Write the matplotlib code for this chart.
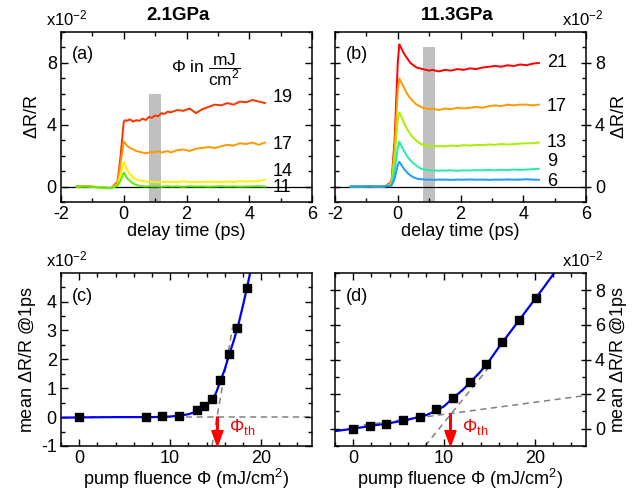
import matplotlib
matplotlib.use("Agg")
import matplotlib.pyplot as plt
from matplotlib.ticker import MultipleLocator

plt.rcParams['font.family'] = ['Liberation Sans', 'DejaVu Sans']
plt.rcParams['mathtext.fontset'] = 'custom'
plt.rcParams['mathtext.rm'] = 'Liberation Sans'
plt.rcParams['mathtext.it'] = 'Liberation Sans:italic'
plt.rcParams['mathtext.bf'] = 'Liberation Sans:bold'
plt.rcParams['axes.unicode_minus'] = False

# ---- transient reflectivity traces (x1e-2) ----
t = [-1.5, -1.2, -0.9, -0.6, -0.4, -0.2, -0.1, 0.0, 0.05, 0.1, 0.2, 0.3, 0.4,
     0.5, 0.6, 0.7, 0.8, 0.9, 1.0, 1.1, 1.2, 1.3, 1.4, 1.5, 1.7, 1.9, 2.1, 2.3,
     2.5, 2.7, 2.9, 3.1, 3.3, 3.5, 3.7, 3.9, 4.1, 4.3, 4.5]

# 2.1 GPa
a_labels = ["19", "17", "14", "11"]
a_colors = ["#ff3300", "#ff9900", "#ffee00", "#55ee00"]
a_traces = [
    [0.0, 0.02, -0.03, -0.08, -0.1, 0.3, 2.0, 4.2, 4.3, 4.25, 4.35, 4.2, 4.3,
     4.25, 4.4, 4.3, 4.5, 4.45, 4.6, 4.55, 4.75, 4.7, 4.85, 4.8, 4.95, 4.9, 5.05,
     4.75, 5.0, 5.15, 5.3, 5.25, 5.4, 5.3, 5.5, 5.45, 5.6, 5.5, 5.4],
    [0.0, 0.02, -0.03, -0.08, -0.1, 0.2, 1.5, 2.9, 2.8, 2.65, 2.5, 2.4, 2.3,
     2.25, 2.2, 2.15, 2.2, 2.25, 2.2, 2.3, 2.2, 2.25, 2.3, 2.2, 2.35, 2.4, 2.3,
     2.45, 2.5, 2.55, 2.5, 2.6, 2.7, 2.65, 2.8, 2.75, 2.85, 2.7, 2.85],
    [0.0, 0.02, -0.03, -0.08, -0.1, 0.1, 0.8, 1.6, 1.4, 1.1, 0.8, 0.6, 0.45,
     0.4, 0.35, 0.33, 0.3, 0.32, 0.3, 0.28, 0.3, 0.3, 0.32, 0.3, 0.3, 0.33, 0.3,
     0.28, 0.3, 0.32, 0.3, 0.3, 0.33, 0.3, 0.35, 0.32, 0.33, 0.35, 0.45],
    [0.0, 0.02, -0.03, -0.08, -0.1, 0.05, 0.4, 0.9, 0.75, 0.55, 0.35, 0.2, 0.1,
     0.05, 0.02, 0.0, 0.02, 0.0, 0.01, 0.0, -0.02, 0.0, 0.02, 0.0, 0.01, -0.02,
     0.02, 0.0, 0.01, -0.01, 0.0, 0.02, 0.0, 0.01, -0.01, 0.0, 0.01, 0.02, 0.0],
]
a_label_y = [5.75, 2.75, 1.0, -0.07]

# 11.3 GPa
b_labels = ["21", "17", "13", "9", "6"]
b_colors = ["#ff0000", "#ff9900", "#aaee00", "#22eeaa", "#1e9bff"]
b_traces = [
    [0.0, 0.0, 0.02, 0.0, 0.02, 0.3, 3.0, 8.0, 9.2, 9.0, 8.6, 8.3, 8.0,
     7.85, 7.7, 7.65, 7.6, 7.55, 7.5, 7.55, 7.5, 7.45, 7.5, 7.55, 7.5, 7.6, 7.55,
     7.65, 7.6, 7.7, 7.75, 7.8, 7.75, 7.85, 7.8, 7.9, 7.85, 7.95, 8.0],
    [0.0, 0.0, 0.02, 0.0, 0.02, 0.25, 2.5, 6.3, 7.0, 6.8, 6.4, 6.0, 5.7,
     5.5, 5.3, 5.2, 5.1, 5.05, 5.0, 5.05, 5.0, 4.95, 5.0, 5.05, 5.0, 5.1, 5.05,
     5.1, 5.15, 5.1, 5.2, 5.25, 5.2, 5.3, 5.25, 5.3, 5.3, 5.25, 5.3],
    [0.0, 0.0, 0.02, 0.0, 0.02, 0.15, 1.8, 4.3, 4.8, 4.6, 4.1, 3.7, 3.4,
     3.15, 2.95, 2.8, 2.7, 2.65, 2.6, 2.6, 2.62, 2.6, 2.62, 2.6, 2.65, 2.62, 2.68,
     2.65, 2.7, 2.68, 2.72, 2.7, 2.75, 2.72, 2.75, 2.78, 2.8, 2.8, 2.85],
    [0.0, 0.0, 0.02, 0.0, 0.02, 0.1, 1.0, 2.5, 2.9, 2.7, 2.3, 1.95, 1.7,
     1.5, 1.35, 1.2, 1.12, 1.08, 1.05, 1.03, 1.05, 1.02, 1.05, 1.03, 1.05, 1.02,
     1.05, 1.04, 1.06, 1.05, 1.07, 1.05, 1.08, 1.06, 1.1, 1.08, 1.1, 1.12, 1.15],
    [0.0, 0.0, 0.02, 0.0, 0.02, 0.05, 0.5, 1.4, 1.6, 1.45, 1.15, 0.9, 0.72,
     0.6, 0.52, 0.48, 0.46, 0.45, 0.44, 0.45, 0.43, 0.45, 0.44, 0.45, 0.43, 0.45,
     0.44, 0.46, 0.44, 0.45, 0.43, 0.45, 0.44, 0.46, 0.44, 0.45, 0.47, 0.45, 0.44],
]
b_label_y = [8.05, 5.2, 2.86, 1.6, 0.34]

# ---- fluence dependence at 1 ps (x1e-2) ----
c_flu = [0.0, 7.33, 9.16, 10.99, 12.9, 13.7, 14.6, 15.5, 16.5, 17.4, 18.4]
c_dr = [0.0, 0.0, 0.03, 0.03, 0.23, 0.38, 0.64, 1.28, 2.2, 3.07, 4.46]
c_fit_x = [-2, 0, 4, 8, 10, 11, 12, 12.5, 13, 13.5, 14, 14.5, 15, 15.5, 16,
           16.5, 17, 17.5, 18, 18.5, 18.8]
c_fit_y = [-0.02, -0.01, 0.0, 0.0, 0.02, 0.05, 0.1, 0.15, 0.22, 0.3, 0.42,
           0.58, 0.8, 1.22, 1.65, 2.17, 2.65, 3.2, 3.85, 4.55, 5.0]
c_th = 15.2

d_flu = [0.0, 1.82, 3.65, 5.47, 7.3, 9.12, 10.95, 12.8, 14.6, 16.4, 18.25, 20.1]
d_dr = [0.0, 0.16, 0.25, 0.51, 0.69, 1.14, 1.78, 2.7, 3.75, 5.02, 6.29, 7.57]
d_fit_x = [-2, 0, 2, 4, 6, 8, 9, 10, 11, 12, 13, 14, 15, 16, 17, 18, 19, 20,
           21, 22.1]
d_fit_y = [-0.14, 0.0, 0.17, 0.32, 0.52, 0.78, 1.0, 1.3, 1.78, 2.22, 2.75, 3.3,
           3.95, 4.7, 5.4, 6.1, 6.8, 7.5, 8.2, 9.0]
d_th = 10.7

FS = 13
fig = plt.figure(figsize=(6.41, 4.91), dpi=100)
W, H = 641, 491
ax_a = fig.add_axes([61 / W, 1 - 202 / H, 251 / W, 170 / H])
ax_b = fig.add_axes([335 / W, 1 - 202 / H, 251 / W, 170 / H])
ax_c = fig.add_axes([61 / W, 1 - 446 / H, 251 / W, 173 / H])
ax_d = fig.add_axes([335 / W, 1 - 446 / H, 251 / W, 173 / H])


def style(ax, right=False):
    for s in ax.spines.values():
        s.set_linewidth(1.1)
    ax.tick_params(which='both', direction='in', top=True, right=True,
                   labelsize=FS, width=1.0, pad=3)
    ax.tick_params(which='major', length=5)
    ax.tick_params(which='minor', length=3)
    if right:
        ax.yaxis.tick_right()
        ax.yaxis.set_label_position('right')
        ax.tick_params(axis='y', which='both', left=True, right=True)
        ax.tick_params(axis='y', which='major', direction='inout', length=7)


# (a) and (b) transients
for ax, traces, labels, colors, label_y, letter, span_top in [
        (ax_a, a_traces, a_labels, a_colors, a_label_y, "(a)", 6.0),
        (ax_b, b_traces, b_labels, b_colors, b_label_y, "(b)", 9.0)]:
    ax.fill_between([0.8, 1.2], -1, span_top, color='#c0c0c0', lw=0, zorder=1)
    ax.axhline(0, color='black', lw=0.9, zorder=1.5)
    for y, c in zip(traces, colors):
        ax.plot(t, y, color=c, lw=1.4, zorder=2)
    for lab, ly in zip(labels, label_y):
        ax.text(4.75, ly, lab, fontsize=FS, va='center', ha='left', zorder=3)
    ax.set_xlim(-2, 6)
    ax.set_ylim(-1, 10)
    ax.xaxis.set_major_locator(MultipleLocator(2))
    ax.xaxis.set_minor_locator(MultipleLocator(1))
    ax.yaxis.set_major_locator(MultipleLocator(4))
    ax.yaxis.set_minor_locator(MultipleLocator(1))
    ax.set_xlabel("delay time (ps)", fontsize=FS, labelpad=0)
    ax.text(0.045, 0.87, letter, transform=ax.transAxes, fontsize=FS,
            va='center', ha='left')

style(ax_a)
style(ax_b, right=True)
ax_a.set_ylabel(r"$\Delta$R/R", fontsize=FS, labelpad=4)
ax_b.set_ylabel(r"$\Delta$R/R", fontsize=FS, labelpad=4)
ax_a.text(1.5, 7.55, r"$\Phi$ in $\dfrac{\mathrm{mJ}}{\mathrm{cm}^2}$",
          fontsize=FS - 0.5, va='center', ha='left')

# (c) and (d) fluence dependence
for ax, flu, dr, fx, fy, th, th_y0, ylo, yhi, letter in [
        (ax_c, c_flu, c_dr, c_fit_x, c_fit_y, c_th, 0.0, -1, 4.99, "(c)"),
        (ax_d, d_flu, d_dr, d_fit_x, d_fit_y, d_th, 0.85, -1, 9, "(d)")]:
    ax.plot(fx, fy, color='#0000ee', lw=1.6, zorder=2)
    ax.plot(flu, dr, 's', color='black', ms=5.5, zorder=3)
    ax.annotate("", xy=(th, ylo), xytext=(th, th_y0),
                arrowprops=dict(color='red', width=1.2, headwidth=8,
                                headlength=11, shrink=0), zorder=4)
    ax.set_xlim(-2, 25.6)
    ax.set_ylim(ylo, yhi)
    ax.xaxis.set_major_locator(MultipleLocator(10))
    ax.xaxis.set_minor_locator(MultipleLocator(2))
    ax.set_xlabel(r"pump fluence $\Phi$ (mJ/cm$^2$)", fontsize=FS, labelpad=0)
    ax.text(0.045, 0.865, letter, transform=ax.transAxes, fontsize=FS,
            va='center', ha='left')

# asymptote lines
ax_c.plot([0, 25.6], [0.02, 0.02], ls=(0, (4, 3)), color='gray', lw=1.1, zorder=1)
ax_c.plot([14.6, 17.0], [-1.0, 3.35], ls=(0, (4, 3)), color='gray', lw=1.1, zorder=1)
ax_d.plot([0, 25.6], [0.13, 1.92], ls=(0, (4, 3)), color='gray', lw=1.1, zorder=1)
ax_d.plot([7.9, 15.0], [-1.0, 3.6], ls=(0, (4, 3)), color='gray', lw=1.1, zorder=1)

ax_c.text(16.5, -0.35, r"$\Phi_{\mathrm{th}}$", color='red', fontsize=FS,
          va='center', ha='left')
ax_d.text(12.0, 0.1, r"$\Phi_{\mathrm{th}}$", color='red', fontsize=FS,
          va='center', ha='left')

ax_c.yaxis.set_major_locator(MultipleLocator(1))
ax_c.yaxis.set_minor_locator(MultipleLocator(0.5))
ax_d.yaxis.set_major_locator(MultipleLocator(2))
ax_d.yaxis.set_minor_locator(MultipleLocator(1))
style(ax_c)
style(ax_d, right=True)
ax_c.set_ylabel(r"mean $\Delta$R/R @1ps", fontsize=FS, labelpad=2)
ax_d.set_ylabel(r"mean $\Delta$R/R @1ps", fontsize=FS, labelpad=2)

# scale factors
for ax, x, ha in [(ax_a, -0.06, 'left'), (ax_c, -0.06, 'left'),
                  (ax_b, 1.07, 'right'), (ax_d, 1.07, 'right')]:
    ax.text(x, 1.02, r"x10$^{-2}$", transform=ax.transAxes, fontsize=FS - 1,
            ha=ha, va='bottom')

fig.text(178 / W, 1 - 16 / H, "2.1GPa", ha='center', va='center',
         fontsize=FS + 0.5, weight='bold')
fig.text(457 / W, 1 - 16 / H, "11.3GPa", ha='center', va='center',
         fontsize=FS + 0.5, weight='bold')

fig.savefig("out.png", dpi=100)
